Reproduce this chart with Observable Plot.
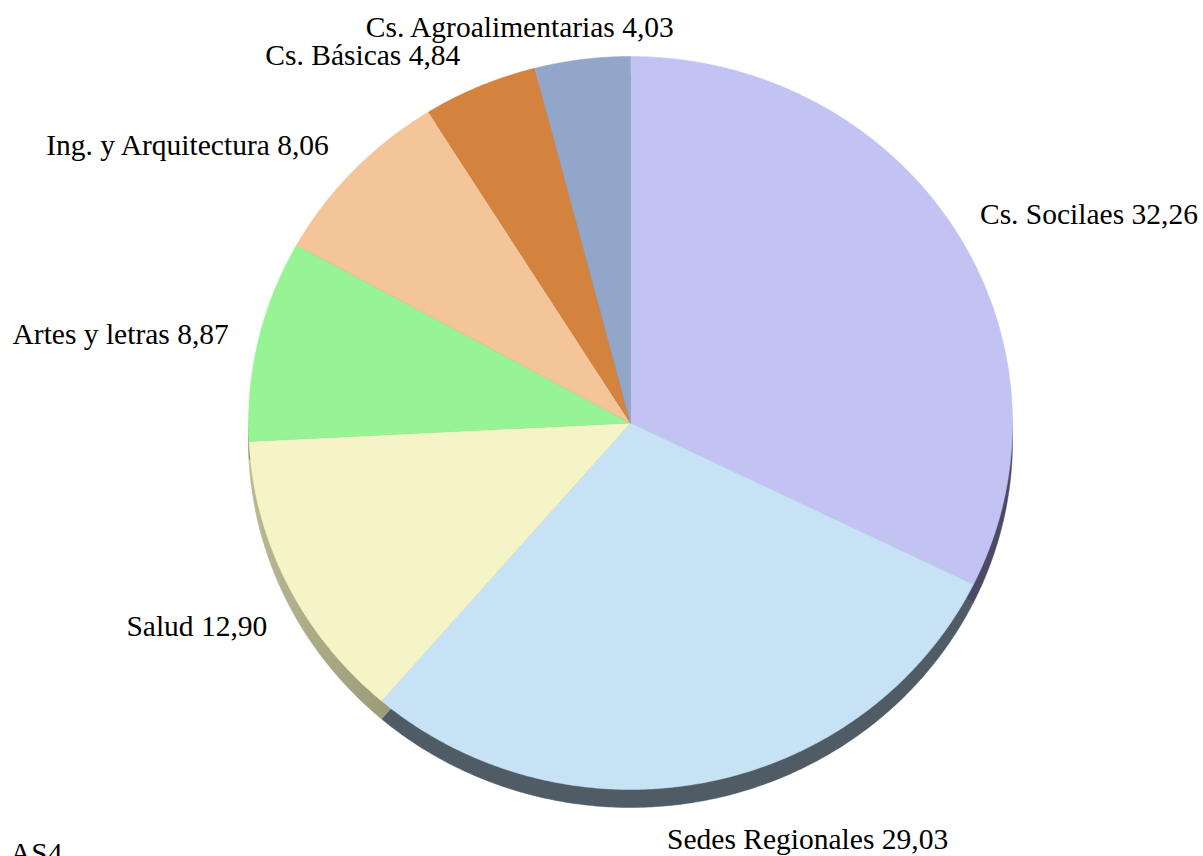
<!DOCTYPE html>
<html><head><meta charset="utf-8">
<script src="https://cdn.jsdelivr.net/npm/d3@7"></script>
<script src="https://cdn.jsdelivr.net/npm/@observablehq/plot@0.6"></script>
<style>
body{margin:0;background:#fff;overflow:hidden;}
#chart{position:absolute;left:0;top:0;}
#cap{position:absolute;left:10px;top:837px;font-family:"Liberation Serif","Times New Roman",serif;font-size:29.5px;color:#000;white-space:nowrap;}
</style>
</head><body>
<div id="chart"></div>
<div id="cap">AS4</div>
<script>
// ---- data ----
const categories = ["Cs. Socilaes", "Sedes Regionales", "Salud", "Artes y letras", "Ing. y Arquitectura", "Cs. Básicas", "Cs. Agroalimentarias"];
const values = [32.26, 29.03, 12.90, 8.87, 8.06, 4.84, 4.03];
const colors = ["#c3c3f3", "#c6e2f4", "#f5f4c6", "#96f495", "#f4c598", "#d4833f", "#91a6c9"];
const shadowColors = ["#4b4963", "#505c65", "url(#saludShadow)", "#6d8a5e", "#8a6f55", "#6e4a2a", "#4f5a6c"];

// ---- label layout (text anchor + pixel nudges) ----
const labelAnchor = ["end", "start", "end", "end", "end", "end", "end"];
const labelDx = [227, -44, -3, -11, -11, -12, 94];
const labelDy = [-5, 40, 34, -1, -12, -14, -14];

// ---- geometry derived from values ----
const total = d3.sum(values);
const slices = [];
const polys = [];
let acc = 0;
values.forEach((v, i) => {
  const a0 = acc / total * 360, a1 = (acc + v) / total * 360;
  acc += v;
  slices.push({i, a0, a1, mid: (a0 + a1) / 2});
  const n = Math.max(2, Math.ceil((a1 - a0) / 0.5));
  polys.push({id: i, x: 0, y: 0, color: colors[i], shadow: shadowColors[i]});
  for (let k = 0; k <= n; k++) {
    const a = (a0 + (a1 - a0) * k / n) * Math.PI / 180;
    polys.push({id: i, x: Math.sin(a), y: Math.cos(a), color: colors[i], shadow: shadowColors[i]});
  }
  polys.push({id: i, x: 0, y: 0, color: colors[i], shadow: shadowColors[i]});
});

const fmt = v => v.toFixed(2).replace(".", ",");
const labelMarks = slices.map(s => {
  const a = s.mid * Math.PI / 180, k = 1.05;
  return Plot.text([{x: k * Math.sin(a), y: k * Math.cos(a), t: categories[s.i] + " " + fmt(values[s.i])}], {
    x: "x", y: "y", text: "t",
    textAnchor: labelAnchor[s.i], lineAnchor: "middle",
    dx: labelDx[s.i], dy: labelDy[s.i],
    fontFamily: "Liberation Serif", fontSize: 29.5, fill: "#000"
  });
});

const chart = Plot.plot({
  width: 1203,
  height: 856,
  marginLeft: 248,
  marginRight: 191,
  marginTop: 56,
  marginBottom: 67,
  x: {domain: [-1, 1], axis: null},
  y: {domain: [-1, 1], axis: null},
  color: {type: "identity"},
  style: {background: "#fff", overflow: "visible"},
  marks: [
    Plot.line(polys, {x: "x", y: "y", z: "id", fill: "shadow", stroke: "shadow", strokeWidth: 0.5, dy: 18, curve: "linear"}),
    Plot.line(polys, {x: "x", y: "y", z: "id", fill: "color", stroke: "color", strokeWidth: 0.5, curve: "linear"}),
    ...labelMarks
  ]
});

// gradient used for the Salud shadow rim
const ns = "http://www.w3.org/2000/svg";
const defs = document.createElementNS(ns, "defs");
defs.innerHTML = '<linearGradient id="saludShadow" x1="0" x2="1" y1="0" y2="0">' +
  '<stop offset="0" stop-color="#b9b894"/><stop offset="0.6" stop-color="#8a8967"/><stop offset="1" stop-color="#66654f"/></linearGradient>';
chart.insertBefore(defs, chart.firstChild);

document.getElementById("chart").appendChild(chart);
</script>
</body></html>
